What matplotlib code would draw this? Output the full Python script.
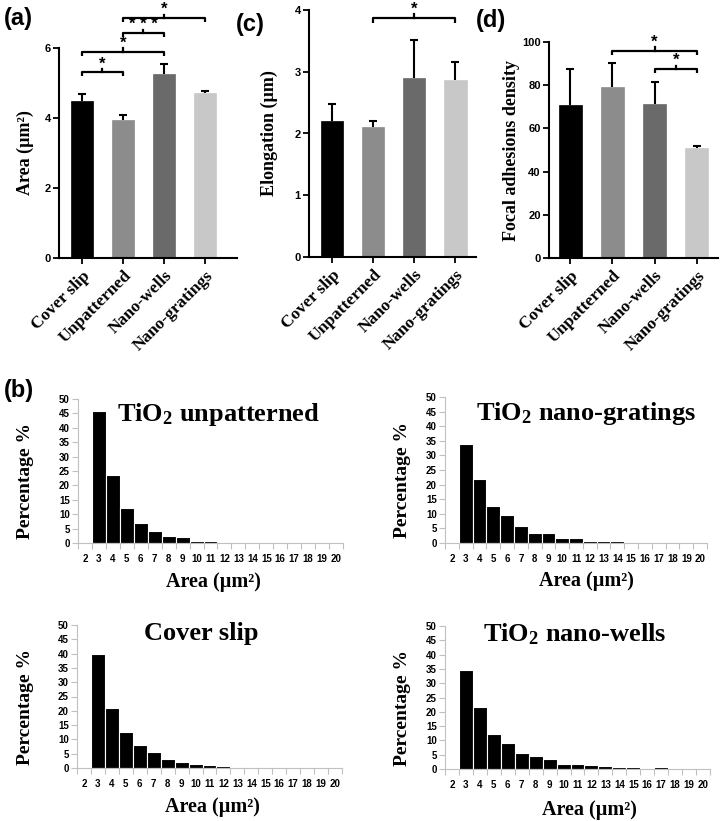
import numpy as np
import matplotlib
matplotlib.use('Agg')
from matplotlib import pyplot as plt

plt.rcParams['mathtext.fontset'] = 'custom'
plt.rcParams['mathtext.rm'] = 'Liberation Serif:bold'
plt.rcParams['mathtext.it'] = 'Liberation Serif:bold'
plt.rcParams['mathtext.bf'] = 'Liberation Serif:bold'

SERIF = 'Liberation Serif'
SANS = 'Liberation Sans'

# ---- data: bar panels ----
groups = ['Cover slip', 'Unpatterned', 'Nano-wells', 'Nano-gratings']
bar_colors = ['#000000', '#8c8c8c', '#6a6a6a', '#c8c8c8']

area_mean = [4.50, 3.95, 5.27, 4.72]
area_err = [0.18, 0.13, 0.28, 0.05]
elong_mean = [2.20, 2.11, 2.90, 2.86]
elong_err = [0.27, 0.10, 0.62, 0.30]
fa_mean = [70.7, 79.0, 71.3, 51.0]
fa_err = [17.0, 11.5, 10.2, 1.0]

# significance brackets: (i, j, y, label)
area_sig = [(0, 1, 5.31, '*'), (0, 2, 5.89, '*'), (1, 2, 6.43, '* * *'), (1, 3, 6.86, '*')]
elong_sig = [(1, 3, 3.87, '*')]
fa_sig = [(1, 3, 96.0, '*'), (2, 3, 87.5, '*')]

# ---- data: histograms (b) ----
bins = list(range(2, 21))
hist_unpatterned = [0, 45.8, 23.5, 12.0, 7.0, 4.0, 2.6, 2.1, 0.8, 0.8, 0.5, 0, 0, 0, 0, 0, 0, 0, 0]
hist_gratings = [0, 33.8, 21.8, 12.7, 9.5, 5.9, 3.4, 3.5, 1.7, 1.8, 0.8, 0.6, 0.7, 0.5, 0, 0, 0.4, 0, 0]
hist_cover = [0, 40.0, 21.0, 12.7, 8.2, 5.7, 3.2, 2.0, 1.3, 1.1, 0.7, 0.5, 0.4, 0.4, 0, 0, 0, 0, 0]
hist_wells = [0, 34.7, 21.7, 12.2, 9.1, 5.6, 4.4, 3.4, 1.7, 1.9, 1.3, 1.2, 0.6, 0.6, 0, 0.6, 0, 0, 0]

W, H = 720, 821
fig = plt.figure(figsize=(W / 100, H / 100), dpi=100)


def add_ax(x0, y_top, x1, y_bot):
    return fig.add_axes([x0 / W, 1 - y_bot / H, (x1 - x0) / W, (y_bot - y_top) / H])


def bracket(ax, i, j, y, label, h):
    ax.plot([i, i, j, j], [y - h, y, y, y - h], color='black', lw=1.6,
            clip_on=False, solid_capstyle='butt')
    m = (i + j) / 2
    ax.plot([m, m], [y, y + h * 0.8], color='black', lw=1.6, clip_on=False)
    ax.text(m, y + h * 0.2, label, ha='center', va='bottom', fontsize=12,
            family=SANS, fontweight='bold', clip_on=False)


def bar_panel(ax, means, errs, ylim, yticks, ylabel, sig, xlim, label_x):
    x = np.arange(len(groups))
    ax.bar(x, means, width=0.54, color=bar_colors, edgecolor=bar_colors, lw=0.5)
    eb = ax.errorbar(x, means, yerr=[np.zeros(len(errs)), errs], fmt='none',
                     ecolor='black', elinewidth=1.5, capsize=3, capthick=1.5)
    eb[1][0].set_visible(False)  # no lower cap
    ax.set_xlim(*xlim)
    ax.set_ylim(*ylim)
    ax.set_yticks(yticks)
    ax.set_xticks(x)
    ax.set_xticklabels(groups, rotation=45, ha='right', rotation_mode='anchor',
                       family=SERIF, fontweight='bold', fontsize=12.5)
    for t in ax.get_yticklabels():
        t.set_family(SANS)
        t.set_fontweight('bold')
    ax.tick_params(axis='y', length=4, width=1.3, labelsize=8, pad=2)
    ax.tick_params(axis='x', length=4, width=1.3, pad=3)
    for s in ['top', 'right']:
        ax.spines[s].set_visible(False)
    for s in ['left', 'bottom']:
        ax.spines[s].set_linewidth(1.5)
    ax.set_ylabel(ylabel, family=SERIF, fontweight='bold', fontsize=13, va='center')
    ax.yaxis.set_label_coords(label_x, 0.5)
    h = (ylim[1] - ylim[0]) * 0.02
    for i, j, y, lab in sig:
        bracket(ax, i, j, y, lab, h)


ax_a = add_ax(59, 48, 237, 258)
bar_panel(ax_a, area_mean, area_err, (0, 6), [0, 2, 4, 6], 'Area (µm²)',
          area_sig, (-0.56, 3.78), -0.19)

ax_c = add_ax(309, 10, 476, 257)
bar_panel(ax_c, elong_mean, elong_err, (0, 4), [0, 1, 2, 3, 4], 'Elongation (µm)',
          elong_sig, (-0.56, 3.5), -0.24)

ax_d = add_ax(549, 42, 718, 258)
bar_panel(ax_d, fa_mean, fa_err, (0, 100), [0, 20, 40, 60, 80, 100],
          'Focal adhesions density', fa_sig, (-0.5, 3.5), -0.22)


def hist_panel(ax, vals, title, title_xy, ylab_x, xlab_xy):
    ax.bar(bins, vals, width=1.0, color='black', edgecolor='white', lw=0.8)
    ax.set_xlim(1.5, 20.5)
    ax.set_ylim(0, 50)
    ax.set_yticks(range(0, 51, 5))
    ax.set_xticks(bins)
    ax.set_xticks(np.arange(1.5, 21, 1), minor=True)
    ax.tick_params(axis='x', which='major', length=0, pad=8, labelsize=7)
    ax.tick_params(axis='x', which='minor', length=4, color='#c0c0c0', width=0.8)
    ax.tick_params(axis='y', length=4, color='#c0c0c0', width=0.8, labelsize=7, pad=2)
    for t in ax.get_xticklabels() + ax.get_yticklabels():
        t.set_family(SANS)
        t.set_fontweight('bold')
    for s in ['top', 'right']:
        ax.spines[s].set_visible(False)
    for s in ['left', 'bottom']:
        ax.spines[s].set_color('#c0c0c0')
        ax.spines[s].set_linewidth(0.8)
    ax.text(title_xy[0], title_xy[1], title, transform=ax.transAxes, ha='center',
            va='center', family=SERIF, fontweight='bold', fontsize=19)
    ax.set_ylabel('Percentage %', family=SERIF, fontweight='bold', fontsize=14,
                  va='center')
    ax.yaxis.set_label_coords(ylab_x, 0.43)
    ax.set_xlabel('Area (µm²)', family=SERIF, fontweight='bold', fontsize=14.5,
                  va='center')
    ax.xaxis.set_label_coords(*xlab_xy)


ax_b1 = add_ax(78, 399, 343, 543)
hist_panel(ax_b1, hist_unpatterned, r'TiO$_2$ unpatterned', (0.53, 0.89), -0.2, (0.51, -0.27))

ax_b2 = add_ax(445, 397, 707, 543)
hist_panel(ax_b2, hist_gratings, r'TiO$_2$ nano-gratings', (0.54, 0.89), -0.164, (0.54, -0.26))

ax_b3 = add_ax(77, 625, 342, 768)
hist_panel(ax_b3, hist_cover, 'Cover slip', (0.47, 0.94), -0.196, (0.51, -0.27))

ax_b4 = add_ax(445, 626, 710, 769)
hist_panel(ax_b4, hist_wells, r'TiO$_2$ nano-wells', (0.49, 0.94), -0.16, (0.545, -0.29))

# panel letters
for txt, px, py in [('(a)', 4, 18), ('(c)', 236, 25), ('(d)', 476, 20), ('(b)', 4, 390)]:
    fig.text(px / W, 1 - py / H, txt, ha='left', va='center', family=SANS,
             fontweight='bold', fontsize=17)

fig.savefig('out.png', dpi=100)
